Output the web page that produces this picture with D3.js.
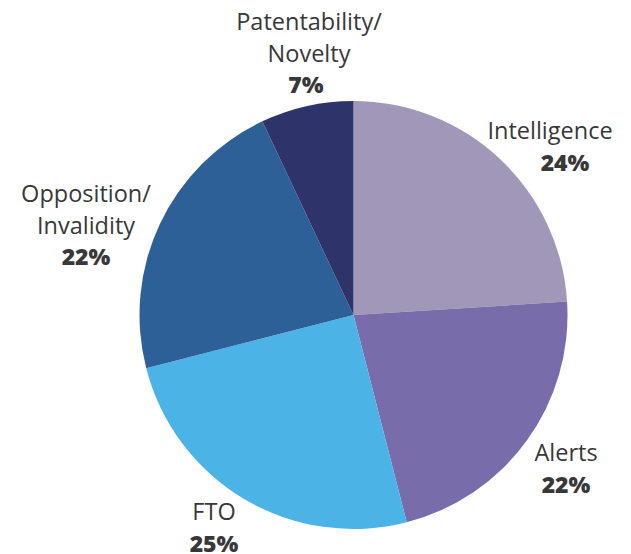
<!DOCTYPE html>
<meta charset="utf-8">
<style>
body {
  margin: 0;
  background-color: #ffffff;
}
text {
  font-family: 'Open Sans', sans-serif;
  fill: #383838;
}
.name {
  font-weight: 400;
  font-size: 23.5px;
}
.pct {
  font-weight: 800;
  font-size: 23px;
}
</style>
<svg width="631" height="554"></svg>
<script src="https://d3js.org/d3.v7.min.js"></script>
<script>
// data
var categories = ["Intelligence", "Alerts", "FTO", "Opposition/\nInvalidity", "Patentability/\nNovelty"];
var shares = [24, 22, 25, 22, 7];
var colors = ["#A197B8", "#786DAA", "#4BB3E6", "#2E6098", "#2E346A"];

// label layout (centre x, first baseline y, extra shift of the % line)
var labelPos = [[550, 139, 15], [566, 461, 0], [214, 520, 0], [86, 202, 0], [309, 30, -3]];

var svg = d3.select("svg"),
    cx = 353.5,
    cy = 315,
    radius = 214,
    lineH = 31.5;

var data = categories.map(function(c, i) {
  return {name: c, value: shares[i], color: colors[i], pos: labelPos[i]};
});

var pie = d3.pie().sort(null).value(function(d) { return d.value; });
var arc = d3.arc().innerRadius(0).outerRadius(radius);

var g = svg.append("g")
    .attr("transform", "translate(" + cx + "," + cy + ")");

g.selectAll(".slice")
    .data(pie(data))
  .enter().append("path")
    .attr("class", "slice")
    .attr("d", arc)
    .attr("fill", function(d) { return d.data.color; });

var labels = svg.selectAll(".label")
    .data(data)
  .enter().append("g")
    .attr("class", "label")
    .attr("transform", function(d) { return "translate(" + d.pos[0] + "," + d.pos[1] + ")"; });

labels.each(function(d) {
  var sel = d3.select(this);
  var lines = d.name.split("\n");
  lines.forEach(function(l, i) {
    sel.append("text")
        .attr("class", "name")
        .attr("text-anchor", "middle")
        .attr("y", i * lineH)
        .text(l);
  });
  sel.append("text")
      .attr("class", "pct")
      .attr("text-anchor", "middle")
      .attr("x", d.pos[2])
      .attr("y", lines.length * lineH)
      .text(d.value + "%");
});
</script>
